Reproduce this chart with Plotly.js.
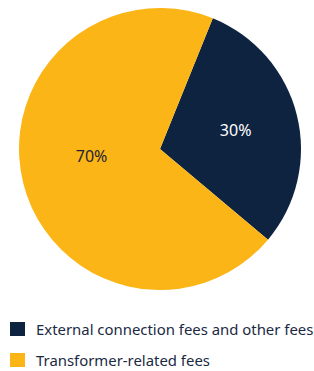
<!DOCTYPE html>
<html>
<head>
<meta charset="utf-8">
<script src="https://cdn.plot.ly/plotly-3.0.1.min.js"></script>
<style>html,body{margin:0;padding:0;background:#fff;}#chart{width:314px;height:371px;}</style>
</head>
<body>
<div id="chart"></div>
<script>
var categories = ["External connection fees and other fees", "Transformer-related fees"];
var values = [30, 70];
var colors = ["#0e2340", "#fbb516"];
var textColors = ["#ffffff", "#1b2433"];

var W = 314, H = 371;
var trace = {
  type: "pie",
  labels: categories,
  values: values,
  sort: false,
  direction: "clockwise",
  rotation: 22,
  marker: {colors: colors, line: {width: 0}},
  textinfo: "percent",
  texttemplate: ["%{percent:.0%}", "%{percent:.0%}<br>&nbsp;"],
  textposition: "inside",
  insidetextorientation: "horizontal",
  textfont: {family: "Noto Sans, sans-serif", size: 16, color: textColors},
  hoverinfo: "none",
  showlegend: false,
  domain: {x: [19 / W, 301 / W], y: [1 - 290 / H, 1 - 8 / H]}
};

var shapes = [], annotations = [];
var rowY = [329, 360];
for (var i = 0; i < categories.length; i++) {
  shapes.push({type: "rect", xref: "paper", yref: "paper",
    x0: 10 / W, x1: 25 / W, y0: 1 - (rowY[i] + 7) / H, y1: 1 - (rowY[i] - 7) / H,
    fillcolor: colors[i], line: {width: 0}});
  annotations.push({xref: "paper", yref: "paper", x: 34 / W, y: 1 - rowY[i] / H,
    xanchor: "left", yanchor: "middle", showarrow: false, text: categories[i],
    font: {family: "Noto Sans, sans-serif", size: 14.9, color: "#1b2a44"}});
}

var layout = {
  width: W, height: H,
  margin: {l: 0, r: 0, t: 0, b: 0},
  paper_bgcolor: "#ffffff",
  showlegend: false,
  shapes: shapes,
  annotations: annotations
};
Plotly.newPlot("chart", [trace], layout, {displayModeBar: false, staticPlot: true});
</script>
</body>
</html>
